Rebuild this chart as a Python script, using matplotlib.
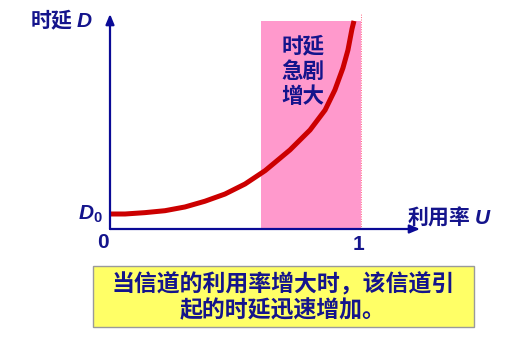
import matplotlib
matplotlib.use('Agg')
import matplotlib.pyplot as plt
from matplotlib.patches import Rectangle, FancyBboxPatch

plt.rcParams['font.family'] = ['Noto Sans CJK SC', 'DejaVu Sans']
plt.rcParams['mathtext.fontset'] = 'custom'
plt.rcParams['mathtext.it'] = 'Liberation Sans:italic:bold'
plt.rcParams['mathtext.rm'] = 'Liberation Sans:bold'
plt.rcParams['mathtext.bf'] = 'Liberation Sans:bold'

# 利用率 U 与时延 D（D 以 D0 为单位，从图上读出）
utilization = [0.0, 0.06, 0.139, 0.219, 0.299, 0.378, 0.458, 0.538, 0.618,
               0.717, 0.797, 0.857, 0.896, 0.928, 0.948, 0.964, 0.972]
delay = [1.0, 1.0, 1.09, 1.22, 1.47, 1.85, 2.33, 3.0, 3.89,
         5.27, 6.6, 7.93, 9.27, 10.73, 11.93, 13.33, 13.87]

region_start = 0.60   # 时延急剧增大的区间
region_end = 1.0
region_top = 13.87

x_max = 1.235
y_max = 14.33

BLUE = '#0a0a96'
TEXT_BLUE = '#14148c'
W, H = 520, 359

fig = plt.figure(figsize=(W / 100, H / 100), dpi=100)
fig.patch.set_facecolor('white')

# 坐标原点在 (110, 229) 像素处
ax = fig.add_axes([110 / W, (H - 229) / H, (420 - 110) / W, (229 - 14) / H])
ax.set_xlim(0, x_max)
ax.set_ylim(0, y_max)
ax.axis('off')

ax.add_patch(Rectangle((region_start, 0), region_end - region_start, region_top,
                       facecolor='#ff99cc', edgecolor='none', zorder=1))
ax.plot([region_end, region_end], [0, y_max], color='#ff6680', lw=0.7,
        ls=(0, (1, 1.5)), zorder=2, clip_on=False)

ax.plot(utilization, delay, color='#cc0000', lw=3.6, solid_capstyle='butt',
        solid_joinstyle='round', zorder=3, clip_on=False)

# 坐标轴箭头
arrow = dict(arrowstyle='-|>,head_length=0.6,head_width=0.25', color=BLUE,
             lw=1.6, shrinkA=0, shrinkB=0)
ax.annotate('', xy=(0, y_max), xytext=(0, 0), arrowprops=arrow,
            annotation_clip=False, zorder=4)
ax.annotate('', xy=(x_max, 0), xytext=(0, 0), arrowprops=arrow,
            annotation_clip=False, zorder=4)


def px_text(x, y, s, size, **kw):
    fig.text(x / W, 1 - y / H, s, fontsize=size, color=TEXT_BLUE,
             fontweight='bold', **kw)


px_text(61, 20, '时延 $D$', 15, ha='center', va='center')
px_text(90, 214, '$D_0$', 15, ha='center', va='center')
px_text(103, 243, '0', 15, ha='center', va='center', family='Liberation Sans')
px_text(358, 245, '1', 15, ha='center', va='center', family='Liberation Sans')
px_text(449, 216, '利用率 $U$', 15, ha='center', va='center')
px_text(303, 71, '时延\n急剧\n增大', 15.5, ha='center', va='center', linespacing=1.25)

# 底部说明框
box = FancyBboxPatch((93 / W, 1 - 327 / H), (474 - 93) / W, (327 - 266) / H,
                     boxstyle='square,pad=0', transform=fig.transFigure,
                     facecolor='#ffff66', edgecolor='#9a9a9a', lw=1.0)
fig.patches.append(box)
px_text(283, 298, '当信道的利用率增大时，该信道引\n起的时延迅速增加。', 16.5,
        ha='center', va='center', linespacing=1.15)

fig.savefig('out.png', dpi=100)
